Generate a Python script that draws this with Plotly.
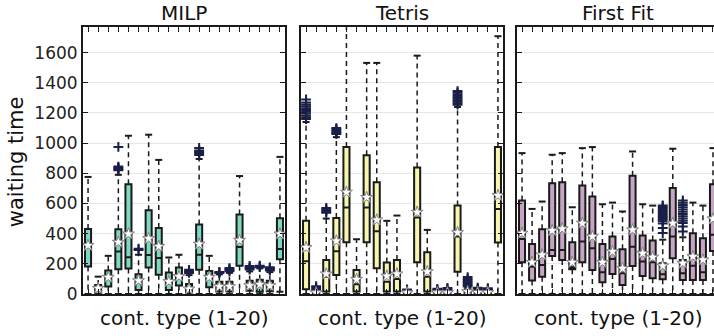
import plotly.graph_objects as go

positions = list(range(1, 21))
panel_titles = ["MILP", "Tetris", "First Fit"]
x_title = "cont. type (1-20)"
y_title = "waiting time"
y_ticks = [0, 200, 400, 600, 800, 1000, 1200, 1400, 1600]

# ---- MILP ----
milp_q1 = [182, 0, 49, 164, 169, 27, 176, 127, 27, 56, 3, 160, 44, 16, 16, 187, 22, 15, 18, 231]
milp_med = [315, 25, 100, 281, 244, 75, 258, 238, 70, 115, 20, 260, 100, 40, 40, 311, 45, 55, 45, 298]
milp_q3 = [431, 60, 155, 429, 727, 131, 556, 438, 142, 176, 66, 460, 153, 82, 82, 527, 88, 95, 88, 502]
milp_lo = [0, 0, 0, 0, 0, 0, 0, 0, 0, 0, 0, 0, 0, 0, 0, 0, 0, 0, 0, 15]
milp_hi = [776, 115, 253, 790, 1049, 260, 1056, 889, 242, 260, 125, 895, 253, 130, 140, 782, 150, 170, 145, 909]
milp_mean = [322, 38, 111, 343, 398, 88, 367, 316, 82, 116, 33, 331, 111, 49, 49, 356, 55, 64, 55, 398]
milp_fliers = [[], [], [], [820, 826, 832, 838, 845, 975], [], [292, 300], [], [], [], [],
               [140, 147, 153, 160], [922, 930, 938, 945, 952, 968], [], [140, 143, 146],
               [150, 158, 165, 172], [], [162, 170, 178, 186], [178, 183, 188], [155, 162, 170, 177], []]

# ---- Tetris ----
tetris_q1 = [31, 0, 16, 126, 343, 16, 343, 170, 16, 16, 0, 210, 16, 0, 0, 148, 0, 0, 0, 341]
tetris_med = [217, 3, 115, 283, 573, 64, 573, 416, 82, 100, 3, 507, 115, 3, 3, 381, 8, 5, 5, 564]
tetris_q3 = [485, 10, 226, 503, 974, 159, 919, 741, 208, 226, 12, 839, 277, 10, 12, 586, 30, 15, 15, 974]
tetris_lo = [0] * 20
tetris_hi = [1140, 14, 500, 1040, 1850, 363, 1532, 1532, 485, 520, 14, 1580, 425, 12, 14, 1240, 42, 22, 20, 1709]
tetris_mean = [308, 8, 133, 352, 675, 97, 640, 491, 119, 133, 8, 542, 148, 8, 8, 407, 15, 10, 10, 653]
tetris_fliers = [[1160, 1172, 1184, 1196, 1208, 1220, 1232, 1244, 1256, 1270, 1290],
                 [20, 28, 36, 44, 52], [538, 546, 554, 562, 570],
                 [1060, 1068, 1076, 1084, 1092, 1100], [], [], [], [], [], [],
                 [18, 24, 30], [], [], [16, 22, 28, 34], [18, 25, 32, 40],
                 [1255, 1265, 1275, 1285, 1295, 1305, 1315, 1325, 1335, 1345],
                 [50, 60, 70, 80, 90, 100, 112], [30, 36, 42], [25, 32, 38], []]

# ---- First Fit ----
ff_q1 = [210, 89, 115, 252, 226, 164, 210, 159, 78, 133, 60, 186, 119, 104, 98, 237, 93, 93, 93, 285]
ff_med = [365, 181, 193, 292, 292, 177, 348, 303, 144, 232, 137, 314, 215, 210, 131, 381, 137, 188, 144, 392]
ff_q3 = [620, 332, 429, 735, 741, 343, 719, 646, 332, 381, 297, 784, 387, 354, 204, 702, 226, 403, 370, 728]
ff_lo = [0] * 20
ff_hi = [934, 564, 613, 923, 934, 575, 967, 974, 595, 606, 547, 945, 595, 586, 360, 963, 376, 606, 586, 967]
ff_mean = [403, 210, 259, 420, 432, 210, 469, 381, 210, 281, 170, 425, 270, 244, 186, 469, 204, 248, 226, 498]
ff_fliers = [[], [], [], [], [], [], [], [], [], [], [], [], [], [],
             [404, 437, 467, 483, 492, 500, 510, 520, 530, 540, 550, 560, 570, 580, 587],
             [],
             [415, 448, 470, 485, 500, 515, 530, 545, 560, 575, 590, 605, 620],
             [], [], []]

panels = [
    (milp_q1, milp_med, milp_q3, milp_lo, milp_hi, milp_mean, milp_fliers, "#7fd8c3"),
    (tetris_q1, tetris_med, tetris_q3, tetris_lo, tetris_hi, tetris_mean, tetris_fliers, "#f7f5ae"),
    (ff_q1, ff_med, ff_q3, ff_lo, ff_hi, ff_mean, ff_fliers, "#c6a4c4"),
]

EDGE = "#1a1a1a"
FONT = "DejaVu Sans"
fig = go.Figure()

for k, (q1, med, q3, lo, hi, mean, fliers, color) in enumerate(panels):
    sfx = "" if k == 0 else str(k + 1)
    xa, ya = "x" + sfx, "y" + sfx
    # whiskers (dashed)
    wx, wy = [], []
    for p, a, b, c, d in zip(positions, q3, hi, q1, lo):
        wx += [p, p, None, p, p, None]
        wy += [a, b, None, c, d, None]
    fig.add_trace(go.Scatter(x=wx, y=wy, mode="lines", xaxis=xa, yaxis=ya,
                             line=dict(color=EDGE, width=1.5, dash="5px,4px"),
                             showlegend=False, hoverinfo="skip"))
    # caps
    fig.add_trace(go.Scatter(x=positions + positions, y=hi + lo, mode="markers",
                             xaxis=xa, yaxis=ya, showlegend=False, hoverinfo="skip",
                             marker=dict(symbol="line-ew", size=5,
                                         line=dict(color=EDGE, width=2))))
    # boxes
    fig.add_trace(go.Box(x=positions, q1=q1, median=med, q3=q3, lowerfence=q1,
                         upperfence=q3, xaxis=xa, yaxis=ya, width=0.6,
                         whiskerwidth=0, boxpoints=False, fillcolor=color,
                         line=dict(color=EDGE, width=2), showlegend=False,
                         hoverinfo="skip"))
    # fliers
    fx, fy = [], []
    for p, fl in zip(positions, fliers):
        fx += [p] * len(fl)
        fy += fl
    fig.add_trace(go.Scatter(x=fx, y=fy, mode="markers", xaxis=xa, yaxis=ya,
                             showlegend=False, hoverinfo="skip",
                             marker=dict(symbol="cross-thin", size=7,
                                         line=dict(color="#1a1f48", width=2))))
    # means
    fig.add_trace(go.Scatter(x=positions, y=mean, mode="markers", xaxis=xa, yaxis=ya,
                             showlegend=False, hoverinfo="skip",
                             marker=dict(symbol="star", size=9, color="white",
                                         line=dict(color="#808080", width=1))))

W = 714 - 83
domains = [[0, 202 / W], [218 / W, 420 / W], [434 / W, 1.0]]
xranges = [[0.5, 20.5], [0.5, 20.5], [0.5, 0.5 + 197 / 10.05]]

layout = dict(width=714, height=336, margin=dict(l=83, r=0, t=27, b=42),
              paper_bgcolor="white", plot_bgcolor="white",
              font=dict(family=FONT, color="#222", size=17))
for k in range(3):
    sfx = "" if k == 0 else str(k + 1)
    layout["xaxis" + sfx] = dict(domain=domains[k], range=xranges[k], tickvals=positions,
                                 showticklabels=False, ticks="inside", ticklen=5,
                                 tickwidth=1, tickcolor=EDGE, showline=True, linewidth=2,
                                 linecolor=EDGE, mirror="ticks", showgrid=False,
                                 zeroline=False, anchor="y" + sfx)
    layout["yaxis" + sfx] = dict(range=[0, 1770], tickvals=y_ticks,
                                 showticklabels=(k == 0), ticks="inside", ticklen=5,
                                 tickwidth=1, tickcolor=EDGE, showline=True, linewidth=2,
                                 linecolor=EDGE, mirror=("ticks" if k < 2 else False),
                                 showgrid=True, gridcolor="#e6e6e6", gridwidth=1,
                                 zeroline=False, anchor="x" + sfx,
                                 tickfont=dict(size=17, family=FONT, color="#222"))
fig.update_layout(**layout)

ann = []
for k in range(3):
    left = domains[k][0]
    cx = left + (202 / W) / 2
    ann.append(dict(text=panel_titles[k], x=cx, y=1.052, xref="paper", yref="paper",
                    xanchor="center", yanchor="middle", showarrow=False,
                    font=dict(size=20, family=FONT, color="#111")))
    ann.append(dict(text=x_title, x=cx, y=-0.09, xref="paper", yref="paper",
                    xanchor="center", yanchor="middle", showarrow=False,
                    font=dict(size=20, family=FONT, color="#111")))
ann.append(dict(text=y_title, x=-0.106, y=0.494, xref="paper", yref="paper",
                xanchor="center", yanchor="middle", showarrow=False, textangle=-90,
                font=dict(size=21, family=FONT, color="#111")))
fig.update_layout(annotations=ann, hovermode=False)

fig.write_html("out.html", config={"displayModeBar": False},
               post_script="document.body.style.margin='0';document.body.style.overflow='hidden';")
